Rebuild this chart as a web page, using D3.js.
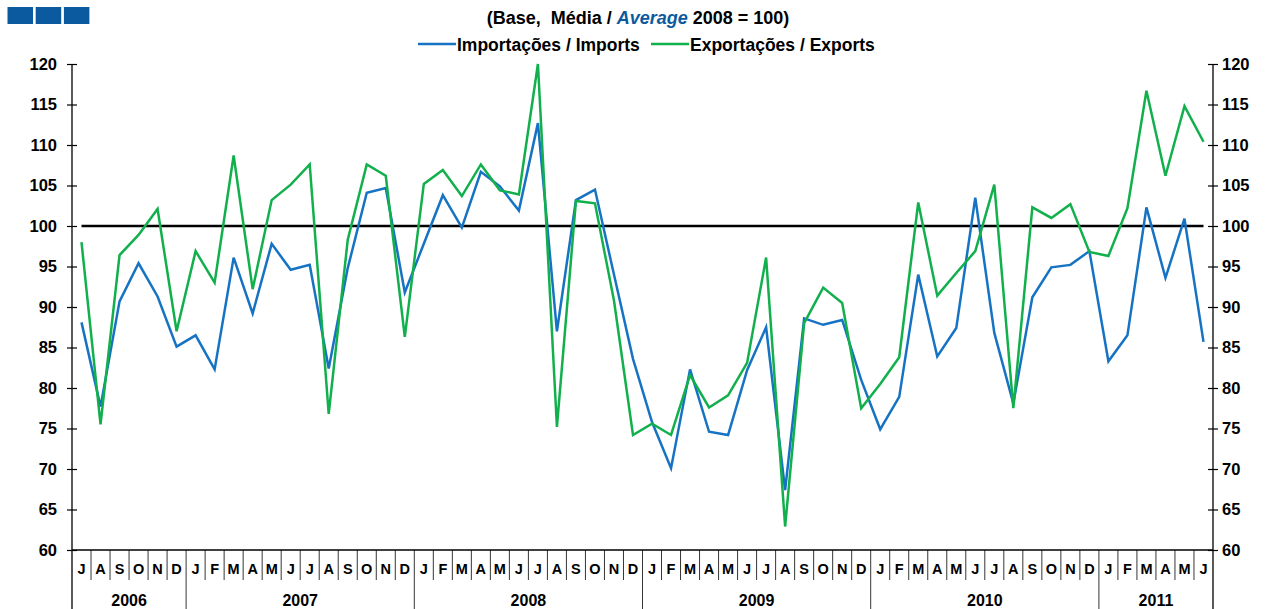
<!DOCTYPE html>
<html>
<head>
<meta charset="utf-8">
<script src="https://cdn.jsdelivr.net/npm/d3@7"></script>
<style>
  body { margin: 0; background: #fff; }
  svg text { font-family: "Liberation Sans", Arial, sans-serif; font-weight: bold; fill: #000; }
</style>
</head>
<body>
<svg id="main-canvas" width="1269" height="609"></svg>
<script>
// 数据
var years = ["2006", "2007", "2008", "2009", "2010", "2011"]
var yearMonths = [
    ["J", "A", "S", "O", "N", "D"],
    ["J", "F", "M", "A", "M", "J", "J", "A", "S", "O", "N", "D"],
    ["J", "F", "M", "A", "M", "J", "J", "A", "S", "O", "N", "D"],
    ["J", "F", "M", "A", "M", "J", "J", "A", "S", "O", "N", "D"],
    ["J", "F", "M", "A", "M", "J", "J", "A", "S", "O", "N", "D"],
    ["J", "F", "M", "A", "M", "J"]
]
var imports = [
    88.1, 77.7, 90.7, 95.4, 91.3, 85.1,
    86.5, 82.3, 96.1, 89.2, 97.8, 94.6, 95.2, 82.4, 94.8, 104.1, 104.7, 91.8,
    97.8, 103.8, 99.8, 106.7, 104.9, 101.9, 112.7, 87.0, 103.2, 104.5, 94.0, 83.6,
    75.8, 70.1, 82.3, 74.6, 74.2, 82.2, 87.5, 67.4, 88.6, 87.8, 88.4, 81.0,
    74.9, 78.9, 94.0, 83.9, 87.4, 103.5, 86.8, 78.1, 91.2, 94.9, 95.2, 96.9,
    83.3, 86.5, 102.3, 93.6, 100.9, 85.7
]
var exportsData = [
    98.0, 75.5, 96.4, 98.9, 102.1, 87.0,
    96.9, 93.0, 108.7, 92.2, 103.2, 105.1, 107.6, 76.8, 98.3, 107.6, 106.2, 86.3,
    105.2, 106.9, 103.7, 107.6, 104.4, 103.9, 120.0, 75.2, 103.1, 102.8, 90.8, 74.2,
    75.6, 74.2, 81.6, 77.6, 79.1, 83.1, 96.1, 62.9, 88.0, 92.4, 90.5, 77.5,
    80.5, 83.8, 102.9, 91.4, 94.2, 96.9, 105.1, 77.5, 102.3, 101.0, 102.7, 96.8,
    96.3, 102.2, 116.7, 106.2, 114.8, 110.4
]
var baseValue = 100
var yTicks = [60, 65, 70, 75, 80, 85, 90, 95, 100, 105, 110, 115, 120]
var seriesNames = ["Importações / Imports", "Exportações / Exports"]

var colors = { imports: "#1673c3", exports: "#12b04c", logo: "#0b5aa0" }

// 每个月一个键
var periods = []
years.forEach(function (yr, yi) {
    yearMonths[yi].forEach(function (m, mi) {
        periods.push({ key: yr + "-" + mi, year: yr, label: m, first: mi === 0 })
    })
})

// 注意: 不能用 top 作变量名 (window.top)
var plotLeft = 72, plotRight = 1213, plotTop = 64, plotBottom = 550

var x = d3.scaleBand()
    .domain(periods.map(function (d) { return d.key }))
    .range([plotLeft, plotRight])
    .paddingInner(0).paddingOuter(0)
var y = d3.scaleLinear().domain([60, 120]).range([plotBottom, plotTop])
var cx = function (i) { return x(periods[i].key) + x.bandwidth() / 2 }

var svg = d3.select("#main-canvas")

// 左上角的标志
svg.append("g").selectAll("rect")
   .data([0, 1, 2]).enter().append("rect")
   .attr("x", function (d) { return 7.5 + d * 28.2 })
   .attr("y", 7)
   .attr("width", 25.5)
   .attr("height", 17)
   .attr("fill", colors.logo)

// 标题
var title = svg.append("text")
   .attr("x", 638)
   .attr("y", 24)
   .attr("text-anchor", "middle")
   .attr("font-size", 18)
   .attr("xml:space", "preserve")
title.append("tspan").text("(Base,  Média / ")
title.append("tspan").attr("font-style", "italic").style("fill", colors.logo).text("Average")
title.append("tspan").text(" 2008 = 100)")

// 图例
var legendItems = [
    { name: seriesNames[0], color: colors.imports, x: 418 },
    { name: seriesNames[1], color: colors.exports, x: 651 }
]
var legend = svg.append("g").selectAll("g").data(legendItems).enter().append("g")
legend.append("line")
   .attr("x1", function (d) { return d.x })
   .attr("x2", function (d) { return d.x + 38 })
   .attr("y1", 44).attr("y2", 44)
   .attr("stroke", function (d) { return d.color })
   .attr("stroke-width", 2.5)
legend.append("text")
   .attr("x", function (d) { return d.x + 39 })
   .attr("y", 50.5)
   .attr("font-size", 17.5)
   .text(function (d) { return d.name })

// 左右坐标轴
var axisL = svg.append("g")
   .attr("transform", "translate(" + plotLeft + ",0)")
   .call(d3.axisLeft(y).tickValues(yTicks).tickSizeInner(5).tickSizeOuter(0).tickPadding(10))
var axisR = svg.append("g")
   .attr("transform", "translate(" + plotRight + ",0)")
   .call(d3.axisRight(y).tickValues(yTicks).tickSizeInner(5).tickSizeOuter(0).tickPadding(4))
axisL.selectAll(".tick line").attr("x1", 5)
axisR.selectAll(".tick line").attr("x1", -5)
;[axisL, axisR].forEach(function (a) {
    a.select(".domain").remove()
    a.selectAll(".tick line").attr("stroke", "#000").attr("stroke-width", 1.2)
    a.selectAll("text")
     .attr("font-size", 16.5)
     .attr("font-family", "Liberation Sans, Arial, sans-serif")
     .attr("font-weight", "bold")
     .attr("fill", "#000")
})

// 轴线，向下延伸到年份区
svg.append("g").selectAll("line")
   .data([plotLeft, plotRight]).enter().append("line")
   .attr("x1", function (d) { return d }).attr("x2", function (d) { return d })
   .attr("y1", plotTop).attr("y2", 609)
   .attr("stroke", "#000").attr("stroke-width", 1.3)
svg.append("line")
   .attr("x1", plotLeft).attr("x2", plotRight)
   .attr("y1", plotBottom).attr("y2", plotBottom)
   .attr("stroke", "#000").attr("stroke-width", 1.3)

// 月份分隔线与标签
var monthAxis = svg.append("g")
monthAxis.selectAll("line")
   .data(periods.slice(1)).enter().append("line")
   .attr("x1", function (d) { return x(d.key) }).attr("x2", function (d) { return x(d.key) })
   .attr("y1", plotBottom)
   .attr("y2", function (d) { return d.first ? 609 : 580 })
   .attr("stroke", "#000").attr("stroke-width", 0.8)
monthAxis.selectAll("text")
   .data(periods).enter().append("text")
   .attr("x", function (d) { return x(d.key) + x.bandwidth() / 2 })
   .attr("y", 574)
   .attr("text-anchor", "middle")
   .attr("font-size", 14.5)
   .text(function (d) { return d.label })

// 年份标签
svg.append("g").selectAll("text")
   .data(years).enter().append("text")
   .attr("x", function (yr) {
       var ks = periods.filter(function (p) { return p.year === yr })
       return (x(ks[0].key) + x(ks[ks.length - 1].key) + x.bandwidth()) / 2
   })
   .attr("y", 606)
   .attr("text-anchor", "middle")
   .attr("font-size", 16)
   .text(function (d) { return d })

// 基准线 100
svg.append("line")
   .attr("x1", cx(0)).attr("x2", cx(periods.length - 1))
   .attr("y1", y(baseValue)).attr("y2", y(baseValue))
   .attr("stroke", "#000").attr("stroke-width", 2.6)

// 折线
var line = d3.line()
   .x(function (d, i) { return cx(i) })
   .y(function (d) { return y(d) })
svg.append("path")
   .datum(imports)
   .attr("d", line)
   .attr("fill", "none")
   .attr("stroke", colors.imports)
   .attr("stroke-width", 2.5)
svg.append("path")
   .datum(exportsData)
   .attr("d", line)
   .attr("fill", "none")
   .attr("stroke", colors.exports)
   .attr("stroke-width", 2.5)
</script>
</body>
</html>
